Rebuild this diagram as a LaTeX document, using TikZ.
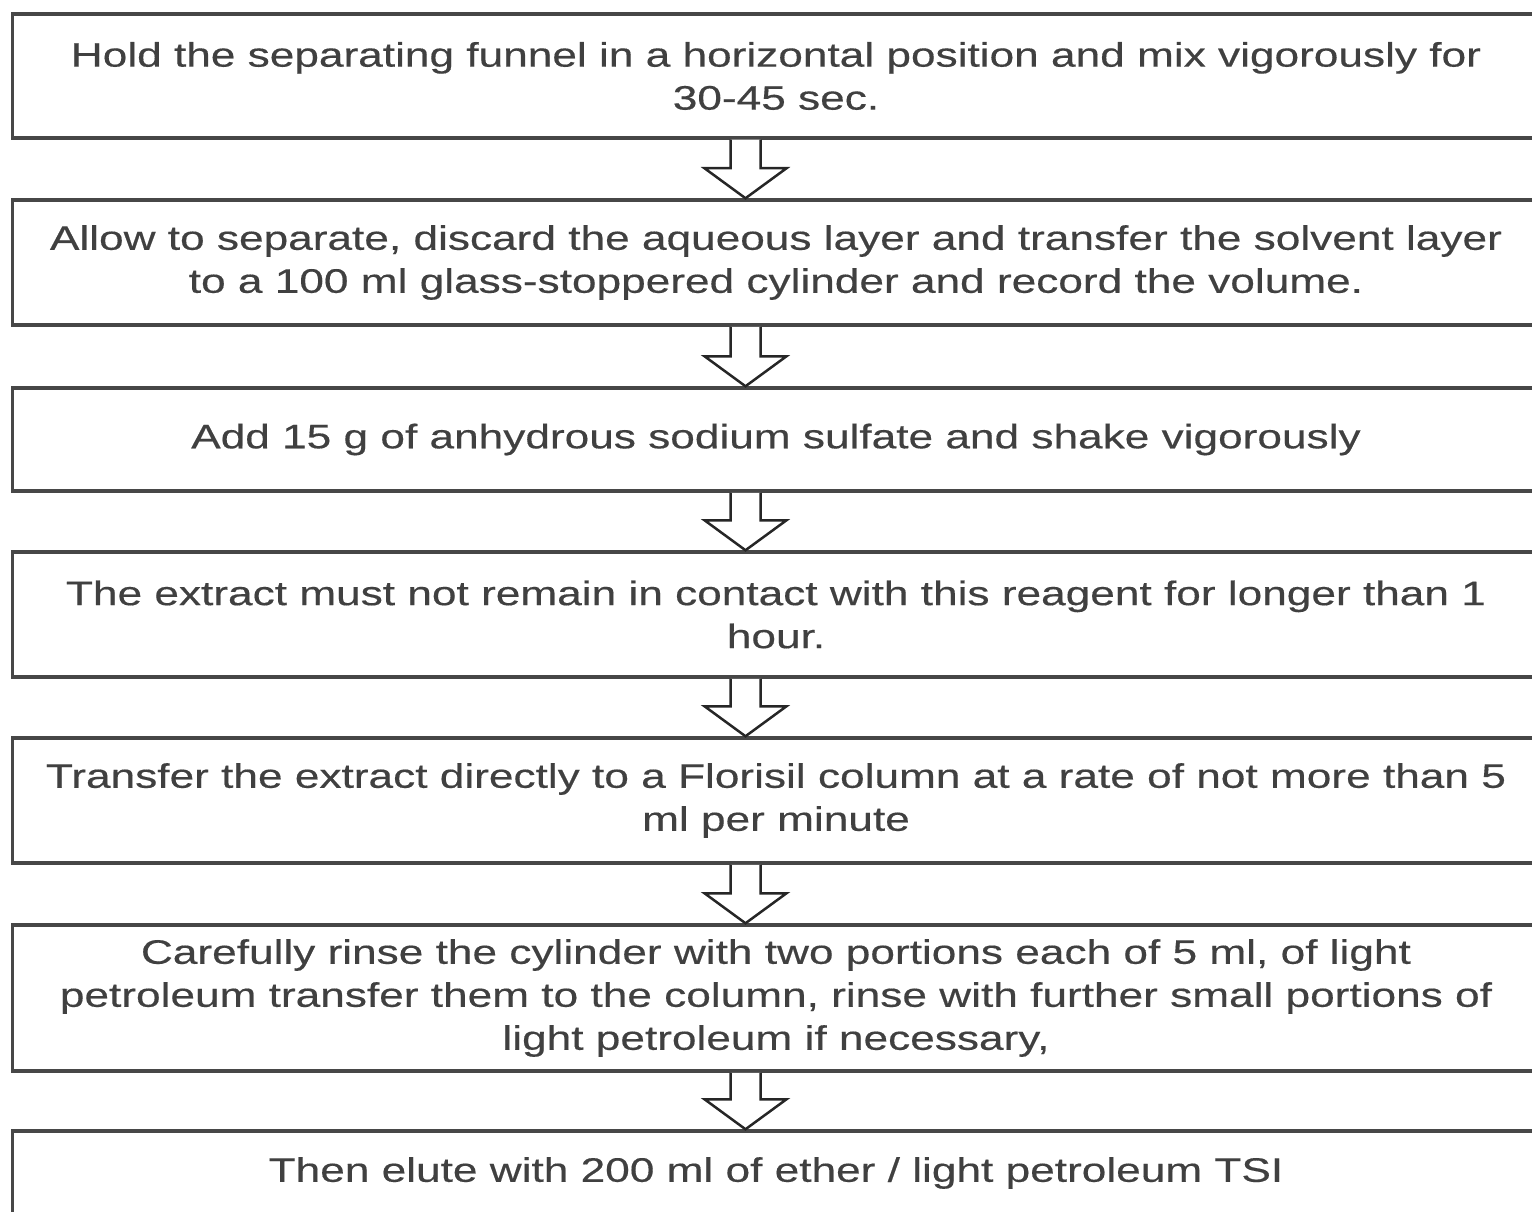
\documentclass[tikz,border=0pt]{standalone}
\usepackage{fontspec}
\setmainfont{Liberation Sans}[FakeStretch=1.3,FakeBold=0.4]
\usetikzlibrary{calc}
\colorlet{boxgray}{black!72}
\colorlet{textgray}{black!75}

% hollow block arrow from the bottom of #1 to the top of #2
\newcommand{\flowarrow}[2]{%
  \draw[blockarrow] ($(#1.south)+(-45.5,0)$) -- ($(#2.north)+(-45.5,-30)$)
    -- ($(#2.north)+(-71.5,-30)$) -- ($(#2.north)+(-30.5,0)$)
    -- ($(#2.north)+(10.5,-30)$) -- ($(#2.north)+(-15.5,-30)$)
    -- ($(#1.south)+(-15.5,0)$);}

\begin{document}
\begin{tikzpicture}[
      x=1pt, y=-1pt,
      % define styles
      stepbox/.style={
           draw=boxgray,
           line width=3.5pt,
           rectangle,
           align=center,
           inner sep=0pt,
           minimum width=1527pt,
           text=textgray,
           font=\fontsize{34}{43}\selectfont
      },
      blockarrow/.style={
           draw=black!85,
           fill=white,
           line width=2.5pt,
           line join=miter
      }
  ]
  \useasboundingbox (0,0) rectangle (1532,1212);
  \clip (0,0) rectangle (1532,1212);
  % the steps, top to bottom
  \node[stepbox,minimum height=124pt] (s1) at (776,76)
    {Hold the separating funnel in a horizontal position and mix vigorously for\\30-45 sec.};
  \node[stepbox,minimum height=125pt] (s2) at (776,262.5)
    {Allow to separate, discard the aqueous layer and transfer the solvent layer\\to a 100 ml glass-stoppered cylinder and record the volume.};
  \node[stepbox,minimum height=103pt] (s3) at (776,439.5)
    {Add 15 g of anhydrous sodium sulfate and shake vigorously};
  \node[stepbox,minimum height=125pt] (s4) at (776,614.5)
    {The extract must not remain in contact with this reagent for longer than 1\\hour.};
  \node[stepbox,minimum height=125pt] (s5) at (776,800.5)
    {Transfer the extract directly to a Florisil column at a rate of not more than 5\\ml per minute};
  \node[stepbox,minimum height=146pt] (s6) at (776,998)
    {Carefully rinse the cylinder with two portions each of 5 ml, of light\\petroleum transfer them to the column, rinse with further small portions of\\light petroleum if necessary,};
  \node[stepbox,minimum height=84pt] (s7) at (776,1173)
    {Then elute with 200 ml of ether / light petroleum TSI};
  % arrows between the steps
  \foreach \a/\b in {s1/s2,s2/s3,s3/s4,s4/s5,s5/s6,s6/s7}
    \flowarrow{\a}{\b};
\end{tikzpicture}
\end{document}
